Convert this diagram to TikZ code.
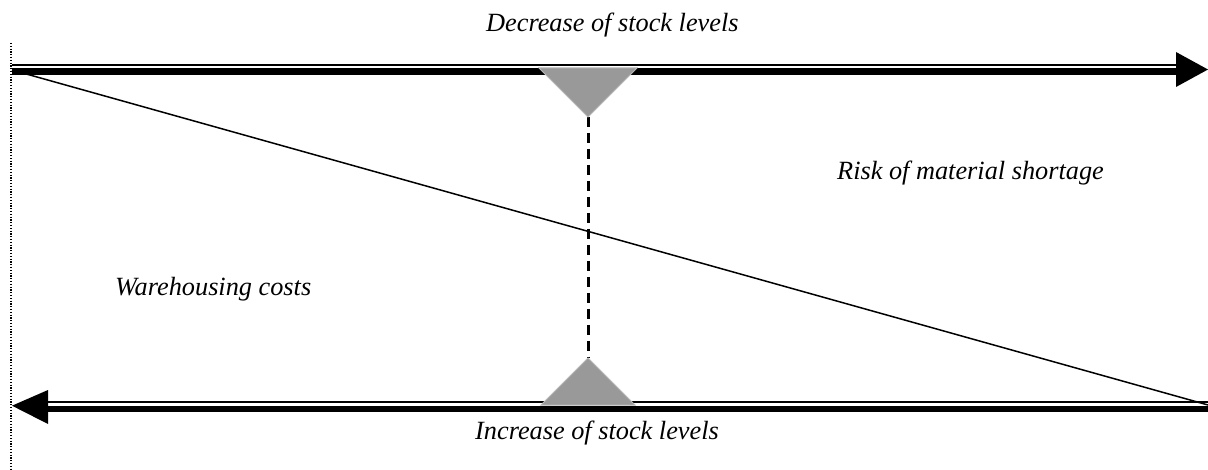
\documentclass[tikz,border=0pt]{standalone}
\usepackage{fontspec}
\setmainfont{Liberation Serif}
\begin{document}
\begin{tikzpicture}[x=1pt,y=-1pt,
  lbl/.style={anchor=base west,inner sep=0pt,font=\fontsize{26.3}{30}\selectfont\itshape},
  thinrail/.style={line width=1.6pt},
  thickrail/.style={line width=6.2pt},
  head/.style={fill=black},
  tri/.style={fill=black!40,draw=black!28,line width=1pt},
  divider/.style={line width=3pt,dash pattern=on 10pt off 6pt},
  diag/.style={line width=1.5pt},
  border/.style={line width=1.1pt,dash pattern=on 1.2pt off 1.6pt,black}]
\useasboundingbox (0,0) rectangle (1208,470);
% coordinates
\coordinate (TL) at (12,71.5);
\coordinate (TR) at (1180,71.5);
\coordinate (TLt) at (12,65);
\coordinate (TRt) at (1180,65);
\coordinate (BL) at (44,409.3);
\coordinate (BR) at (1208,409.3);
\coordinate (BLt) at (44,402);
\coordinate (BRt) at (1208,402);
\coordinate (Dtop) at (11,43);
\coordinate (Dbot) at (11,470);
\coordinate (Gs) at (12,70);
\coordinate (Ge) at (1208,405);
% dotted border
\draw[border] (Dtop) -- (Dbot);
% rails
\draw[thinrail] (TLt) -- (TRt);
\draw[thickrail] (TL) -- (TR);
\draw[thinrail] (BLt) -- (BRt);
\draw[thickrail] (BL) -- (BR);
% arrow heads
\fill[head] (1176,52) -- (1208,69.5) -- (1176,87) -- cycle;
\fill[head] (48,390) -- (12,405.7) -- (48,424) -- cycle;
% diagonal
\draw[diag] (Gs) -- (Ge);
% triangles and divider
\coordinate (A1) at (588,117);
\coordinate (A2) at (588,358);
\draw[divider] (A1) -- (A2);
\filldraw[tri] (539,68) -- (637,68) -- (A1) -- cycle;
\filldraw[tri] (541,405) -- (635,405) -- (A2) -- cycle;
% labels
\node[lbl] (dec) at (486,32) {Decrease of stock levels};
\node[lbl] (risk) at (837,180) {Risk of material shortage};
\node[lbl] (ware) at (115,296) {Warehousing costs};
\node[lbl] (inc) at (475,439) {Increase of stock levels};
\end{tikzpicture}
\end{document}
